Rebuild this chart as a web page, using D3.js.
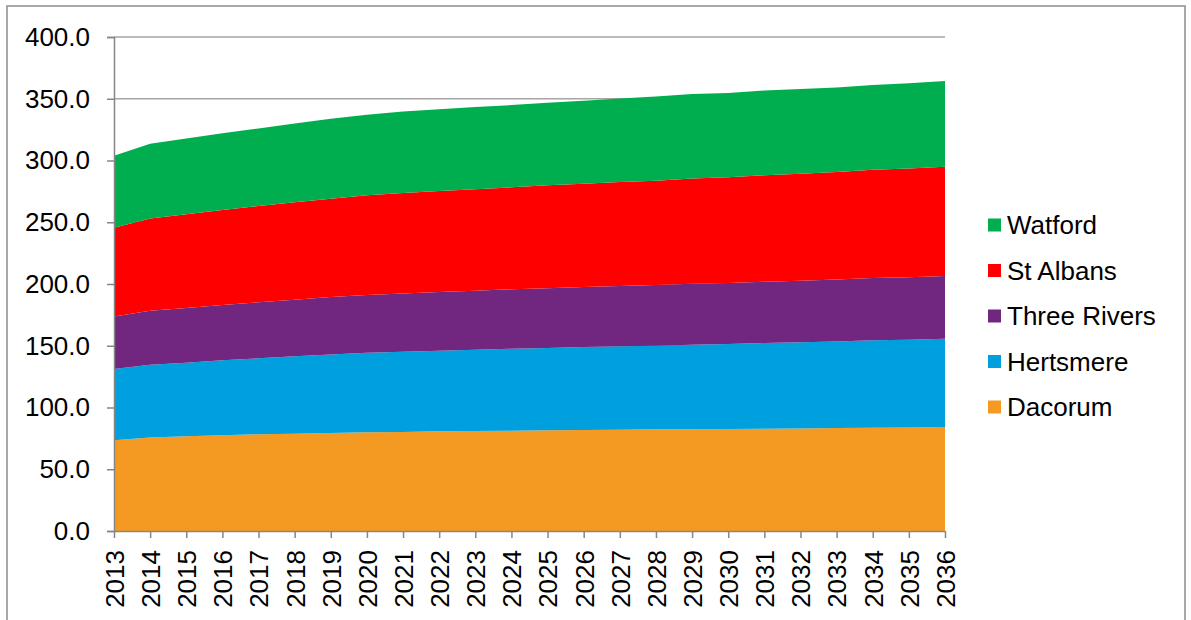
<!DOCTYPE html>
<html>
<head>
<meta charset="utf-8">
<script src="https://cdn.jsdelivr.net/npm/d3@7"></script>
<style>
  html, body { margin: 0; padding: 0; background: #fff; }
  svg { display: block; }
  text { font-family: "Liberation Sans", Arial, sans-serif; fill: #000; }
</style>
</head>
<body>
<svg id="chart" width="1191" height="620"></svg>
<script>
const years = [2013,2014,2015,2016,2017,2018,2019,2020,2021,2022,2023,2024,2025,2026,2027,2028,2029,2030,2031,2032,2033,2034,2035,2036];
const dacorum     = [73.5,75.8,76.7,77.5,78.3,78.8,79.4,79.9,80.2,80.7,81.0,81.1,81.5,81.8,82.0,82.3,82.4,82.6,82.8,83.0,83.3,83.6,83.9,84.2];
const hertsmere   = [57.7,58.8,59.6,60.7,61.5,62.6,63.6,64.5,65.0,65.3,65.8,66.5,66.7,67.2,67.5,67.7,68.5,68.8,69.4,69.8,70.1,70.8,71.0,71.5];
const threeRivers = [42.4,43.8,44.3,44.8,45.4,45.9,46.4,46.7,47.2,47.5,47.8,48.1,48.3,48.6,48.9,49.2,49.3,49.5,49.7,49.9,50.2,50.4,50.6,50.8];
const stAlbans    = [72.0,74.7,75.8,76.9,78.0,78.8,79.7,80.7,81.3,81.8,82.1,82.6,83.4,83.6,84.2,84.4,85.3,85.5,86.1,86.6,87.0,87.7,88.0,88.5];
const watford     = [58.3,60.4,61.5,62.1,62.8,63.9,64.8,65.3,65.9,66.1,66.6,66.6,66.9,67.2,67.7,68.3,68.3,68.3,68.6,68.6,68.5,68.6,69.1,69.4];
const seriesNames = ["Dacorum","Hertsmere","Three Rivers","St Albans","Watford"];
const seriesColors = ["#F49A22","#00A0DF","#71267F","#FF0000","#00AE4F"];
const yTicks = [0,50,100,150,200,250,300,350,400];

const seriesValues = [dacorum, hertsmere, threeRivers, stAlbans, watford];
const rows = years.map((y, i) => {
  const r = { year: y };
  seriesNames.forEach((n, k) => r[n] = seriesValues[k][i]);
  return r;
});

const svg = d3.select("#chart");
const m = { left: 114, right: 945, top: 37, bottom: 531 };
const FONT = "26px";

// outer frame
svg.append("rect")
  .attr("x", 7).attr("y", 6).attr("width", 1178).attr("height", 640)
  .attr("fill", "none").attr("stroke", "#8c8c8c").attr("stroke-width", 1.5);

const x = d3.scaleLinear().domain([years[0], years[years.length - 1]]).range([m.left, m.right]);
const y = d3.scaleLinear().domain([0, 400]).range([m.bottom, m.top]);

// gridlines
svg.append("g")
  .selectAll("line").data(yTicks.filter(t => t > 0)).join("line")
  .attr("x1", m.left).attr("x2", m.right)
  .attr("y1", d => y(d)).attr("y2", d => y(d))
  .attr("stroke", "#a6a6a6").attr("stroke-width", 1.3);

// stacked areas
const stack = d3.stack().keys(seriesNames);
const layers = stack(rows);
const area = d3.area()
  .x(d => x(d.data.year))
  .y0(d => y(d[0]))
  .y1(d => y(d[1]));

svg.append("g")
  .selectAll("path").data(layers).join("path")
  .attr("d", area)
  .attr("fill", (d, i) => seriesColors[i]);

// y axis
const yAxis = d3.axisLeft(y).tickValues(yTicks).tickSize(7).tickPadding(17)
  .tickFormat(d3.format(".1f"));
const gy = svg.append("g").attr("transform", `translate(${m.left},0)`).call(yAxis);
gy.select(".domain").attr("stroke", "#868686").attr("stroke-width", 1.5);
gy.selectAll(".tick line").attr("stroke", "#868686").attr("stroke-width", 1.5);
gy.selectAll(".tick text")
  .style("font-family", '"Liberation Sans", Arial, sans-serif')
  .style("font-size", FONT).attr("fill", "#000");

// x axis
const xAxis = d3.axisBottom(x).tickValues(years).tickSize(7).tickSizeOuter(0)
  .tickFormat(d3.format("d"));
const gx = svg.append("g").attr("transform", `translate(0,${m.bottom})`).call(xAxis);
gx.select(".domain").attr("stroke", "#868686").attr("stroke-width", 1.5);
gx.selectAll(".tick line").attr("stroke", "#868686").attr("stroke-width", 1.5);
gx.selectAll(".tick text")
  .style("font-family", '"Liberation Sans", Arial, sans-serif')
  .style("font-size", FONT).attr("fill", "#000")
  .attr("transform", "rotate(-90)")
  .attr("text-anchor", "end")
  .attr("x", -19).attr("y", 0).attr("dy", "0.36em");

// legend (top to bottom: reverse order)
const legendOrder = seriesNames.map((n, i) => ({ name: n, color: seriesColors[i] })).reverse();
const lg = svg.append("g");
const legendY = d3.scalePoint().domain(legendOrder.map(d => d.name)).range([225, 407]);
lg.selectAll("rect").data(legendOrder).join("rect")
  .attr("x", 988).attr("y", d => legendY(d.name) - 6.5)
  .attr("width", 13).attr("height", 13)
  .attr("fill", d => d.color);
lg.selectAll("text").data(legendOrder).join("text")
  .attr("x", 1007).attr("y", d => legendY(d.name))
  .attr("dy", "0.36em")
  .style("font-size", FONT)
  .text(d => d.name);
</script>
</body>
</html>
